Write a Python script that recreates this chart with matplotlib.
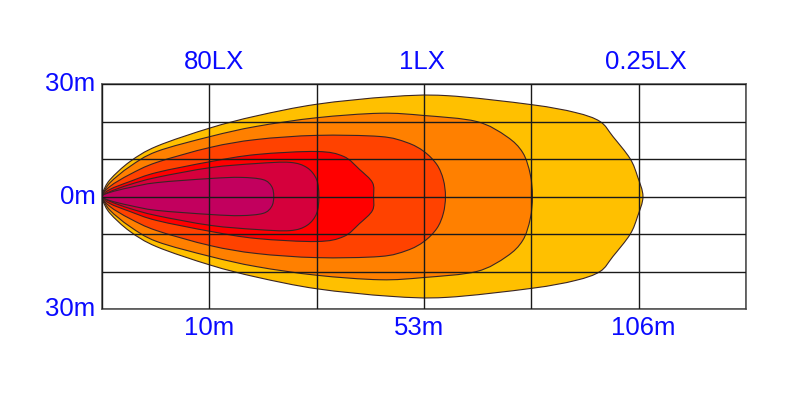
import matplotlib.pyplot as plt
from matplotlib.patches import PathPatch
from matplotlib.path import Path

plt.rcParams['font.family'] = ['Liberation Sans', 'DejaVu Sans']

# beam outlines, upper half only (x in grid columns, y in metres), outer -> inner
beam_colors = ['#FFC000', '#FF8000', '#FF4200', '#FF0000', '#D5003C', '#C2005E']

yellow_x = [0, 0.01, 0.075, 0.26, 0.51, 1.01, 1.44, 2.0, 2.68, 3.21, 4.0, 4.41, 4.64, 4.76, 4.92, 4.99, 5.04]
yellow_y = [0, 1.3, 4.5, 9.3, 13.4, 18.3, 21.5, 24.6, 26.6, 26.9, 24.5, 22.4, 20.0, 16.0, 10.1, 5.3, 0]

orange_x = [0, 0.01, 0.075, 0.26, 0.51, 1.01, 1.44, 2.0, 2.59, 3.0, 3.49, 3.77, 3.92, 3.99, 4.01]
orange_y = [0, 0.8, 3.7, 8.0, 12.0, 16.0, 18.7, 21.0, 22.2, 21.6, 20.0, 16.0, 11.7, 5.9, 0]

redorange_x = [0, 0.075, 0.26, 0.51, 1.01, 1.44, 2.0, 2.59, 2.84, 3.0, 3.12, 3.18, 3.20]
redorange_y = [0, 2.7, 5.9, 9.1, 13.1, 15.2, 16.3, 16.0, 14.4, 12.0, 8.5, 4.5, 0]

red_x = [0, 0.075, 0.26, 0.51, 1.01, 1.44, 2.0, 2.25, 2.40, 2.52, 2.53]
red_y = [0, 1.9, 4.0, 6.4, 9.3, 11.2, 12.0, 10.7, 7.2, 3.7, 0]

crimson_x = [0, 0.075, 0.26, 0.51, 1.01, 1.44, 1.75, 1.91, 2.0, 2.02]
crimson_y = [0, 1.3, 3.2, 5.1, 7.7, 8.8, 9.1, 7.7, 4.5, 0]

magenta_x = [0, 0.075, 0.26, 0.51, 1.01, 1.29, 1.5, 1.58, 1.60]
magenta_y = [0, 1.1, 2.4, 3.7, 4.8, 5.1, 4.5, 2.7, 0]

top_labels = ['80LX', '1LX', '0.25LX']
top_label_x = [1.04, 2.98, 5.07]
bottom_labels = ['10m', '53m', '106m']
bottom_label_x = [1.0, 2.95, 5.04]
side_labels = ['30m', '0m', '30m']
side_label_y = [30, 0, -30]

shapes = [(yellow_x, yellow_y), (orange_x, orange_y), (redorange_x, redorange_y),
          (red_x, red_y), (crimson_x, crimson_y), (magenta_x, magenta_y)]


def smooth_outline(xs, ys):
    # closed outline through the points, drawn as bezier curves (catmull-rom style)
    pts = list(zip(xs, ys)) + [(x, -y) for x, y in zip(xs[-2:0:-1], ys[-2:0:-1])]
    n = len(pts)
    verts = [pts[0]]
    codes = [Path.MOVETO]
    for i in range(n):
        p0, p1, p2, p3 = pts[i - 1], pts[i], pts[(i + 1) % n], pts[(i + 2) % n]
        c1 = (p1[0] + (p2[0] - p0[0]) / 6, p1[1] + (p2[1] - p0[1]) / 6)
        c2 = (p2[0] - (p3[0] - p1[0]) / 6, p2[1] - (p3[1] - p1[1]) / 6)
        verts += [c1, c2, p2]
        codes += [Path.CURVE4] * 3
    return Path(verts, codes)


fig = plt.figure(figsize=(8, 4), dpi=100)
ax = fig.add_axes([0.1275, 0.2275, 0.805, 0.5625])

for (xs, ys), c in zip(shapes, beam_colors):
    ax.add_patch(PathPatch(smooth_outline(xs, ys), facecolor=c, edgecolor='#3a2525',
                           lw=0.8, zorder=1))

ax.set_xlim(0, 6)
ax.set_ylim(-30, 30)
ax.set_xticks(range(7))
ax.set_yticks(range(-30, 31, 10))
ax.tick_params(length=0, labelbottom=False, labelleft=False)
ax.grid(True, color='#1a1a1a', lw=1)
ax.set_axisbelow(False)
for s in ax.spines.values():
    s.set_color('#555555')
    s.set_linewidth(1.2)

blue = '#0A0AFF'
for lab, x in zip(top_labels, top_label_x):
    ax.text(x, 35.9, lab, ha='center', va='center', fontsize=18.5, color=blue)
for lab, x in zip(bottom_labels, bottom_label_x):
    ax.text(x, -35.1, lab, ha='center', va='center', fontsize=18.5, color=blue)
for lab, y in zip(side_labels, side_label_y):
    ax.text(-0.06, y, lab, ha='right', va='center', fontsize=18.5, color=blue)

plt.savefig('out.png')
